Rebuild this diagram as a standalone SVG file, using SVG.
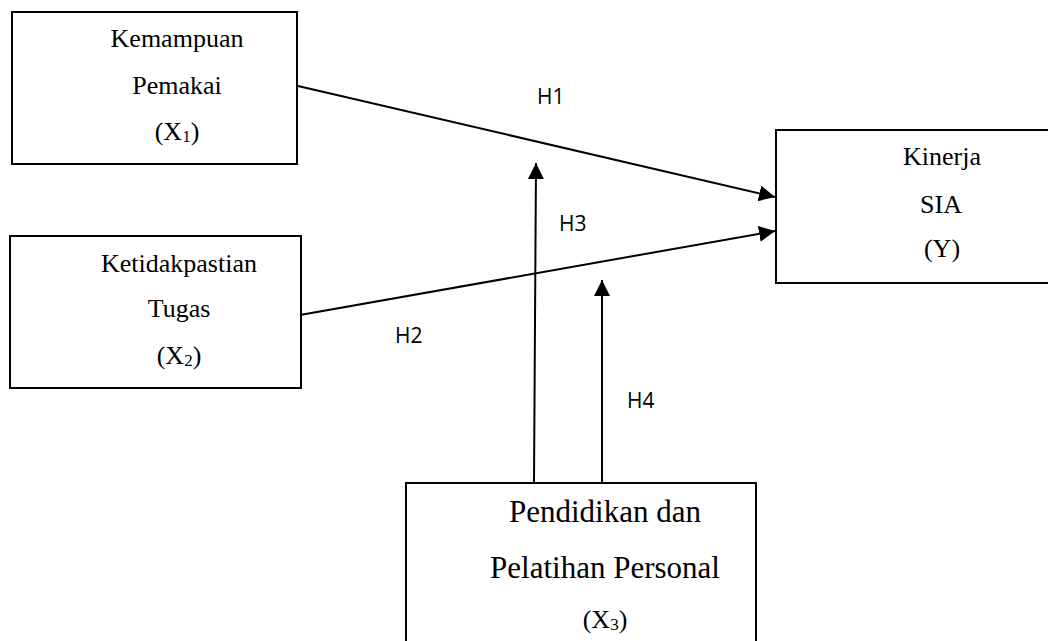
<svg xmlns="http://www.w3.org/2000/svg" width="1048" height="641" viewBox="0 0 1048 641">
<defs>
<style>
.box{fill:#fff;stroke:#000;stroke-width:2}
.t{font-family:"Liberation Serif","Times New Roman",serif;font-size:26px;fill:#000;text-anchor:middle}
.tb{font-family:"Liberation Serif","Times New Roman",serif;font-size:31px;fill:#000;text-anchor:middle}
.sub{font-size:17px}
.lbl{font-family:"Open Sans","Liberation Sans",sans-serif;font-size:21px;fill:#000}
.c{stroke:#000;stroke-width:2;fill:none;marker-end:url(#ah)}
</style>
<marker id="ah" markerUnits="userSpaceOnUse" markerWidth="18" markerHeight="18" refX="16" refY="8" orient="auto">
<path d="M0,0 L16,8 L0,16 z" fill="#000"/>
</marker>
</defs>
<rect width="1048" height="641" fill="#fff"/>
<g id="node-x1">
<rect class="box" x="12" y="12" width="285" height="152"/>
<text class="t" x="177" y="47">Kemampuan</text>
<text class="t" x="177" y="94">Pemakai</text>
<text class="t" x="177" y="140">(X<tspan class="sub" dy="2">1</tspan><tspan dy="-2">)</tspan></text>
</g>
<g id="node-x2">
<rect class="box" x="10" y="236" width="291" height="152"/>
<text class="t" x="179" y="272">Ketidakpastian</text>
<text class="t" x="179" y="317">Tugas</text>
<text class="t" x="179" y="364">(X<tspan class="sub" dy="2">2</tspan><tspan dy="-2">)</tspan></text>
</g>
<g id="node-y">
<rect class="box" x="776" y="130" width="290" height="153"/>
<text class="t" x="942" y="165">Kinerja</text>
<text class="t" x="941" y="213">SIA</text>
<text class="t" x="942" y="257">(Y)</text>
</g>
<g id="node-x3">
<rect class="box" x="406" y="483" width="350" height="180"/>
<text class="tb" x="605" y="522">Pendidikan dan</text>
<text class="tb" x="605" y="578">Pelatihan Personal</text>
<text class="t" x="605" y="628">(X<tspan class="sub" dy="2">3</tspan><tspan dy="-2">)</tspan></text>
</g>
<g id="connectors">
<line class="c" x1="298" y1="86" x2="775" y2="197"/>
<line class="c" x1="300" y1="315" x2="775" y2="231"/>
<line class="c" x1="534" y1="483" x2="536" y2="163"/>
<line class="c" x1="602" y1="483" x2="602" y2="280"/>
</g>
<g id="labels">
<text class="lbl" x="537" y="104">H1</text>
<text class="lbl" x="559" y="231">H3</text>
<text class="lbl" x="395" y="343">H2</text>
<text class="lbl" x="627" y="408">H4</text>
</g>
</svg>
